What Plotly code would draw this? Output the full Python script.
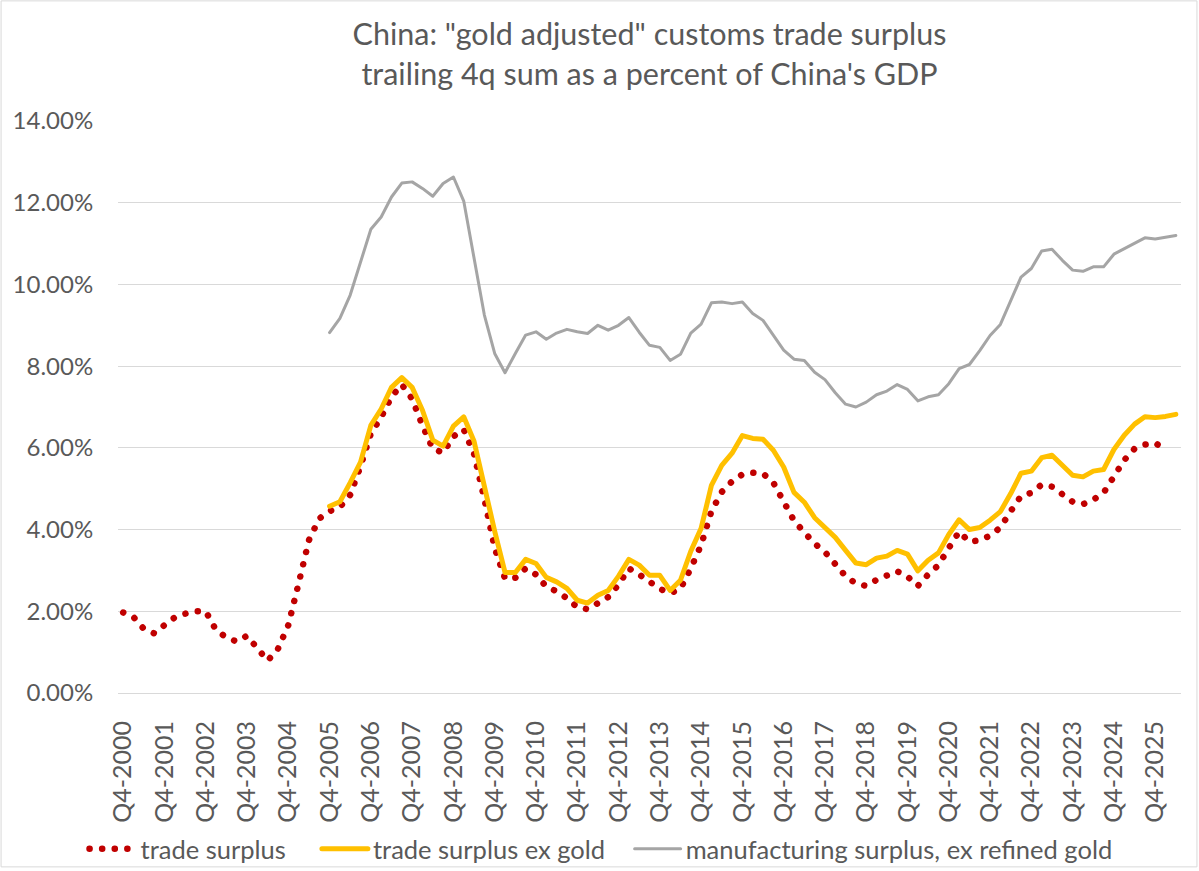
import plotly.graph_objects as go

# quarter categories, Q4-2000 onwards
years = list(range(2000, 2027))
quarters = ["Q4-2000"] + [f"Q{q}-{y}" for y in years[1:] for q in (1, 2, 3, 4)]
quarters = quarters[:103]
tick_labels = quarters[::4]

# trailing 4q sums as % of GDP
trade_surplus = [
    1.97, 1.86, 1.57, 1.46, 1.66, 1.85, 1.94, 2.00, 2.00, 1.54,
    1.36, 1.26, 1.40, 1.10, 0.79, 1.08, 1.66, 2.68, 3.74, 4.27,
    4.45, 4.55, 4.85, 5.55, 6.35, 6.75, 7.25, 7.55, 7.20, 6.55,
    5.98, 5.88, 6.28, 6.45, 5.85, 4.75, 3.55, 2.80, 2.82, 3.05,
    2.90, 2.60, 2.49, 2.32, 2.10, 2.05, 2.18, 2.35, 2.65, 3.05,
    2.90, 2.72, 2.55, 2.44, 2.55, 3.05, 3.62, 4.45, 4.92, 5.18,
    5.35, 5.39, 5.37, 5.15, 4.72, 4.22, 3.93, 3.66, 3.45, 3.16,
    2.86, 2.68, 2.62, 2.77, 2.88, 2.98, 2.85, 2.62, 2.90, 3.13,
    3.55, 3.95, 3.70, 3.74, 3.85, 4.05, 4.45, 4.82, 4.90, 5.10,
    5.05, 4.85, 4.68, 4.62, 4.73, 4.90, 5.32, 5.70, 5.98, 6.08,
    6.12, 5.95,
]

surplus_ex_gold = [None] * 20 + [
    4.57, 4.68, 5.15, 5.65, 6.55, 6.95, 7.48, 7.72, 7.48, 6.92,
    6.19, 6.04, 6.53, 6.76, 6.16, 5.04, 3.96, 2.95, 2.95, 3.27,
    3.17, 2.83, 2.72, 2.56, 2.27, 2.20, 2.39, 2.51, 2.86, 3.27,
    3.13, 2.88, 2.88, 2.51, 2.76, 3.47, 4.03, 5.08, 5.57, 5.87,
    6.30, 6.23, 6.21, 5.94, 5.53, 4.91, 4.67, 4.29, 4.06, 3.81,
    3.49, 3.18, 3.14, 3.30, 3.35, 3.49, 3.40, 2.99, 3.25, 3.43,
    3.88, 4.24, 4.00, 4.05, 4.23, 4.44, 4.88, 5.38, 5.43, 5.76,
    5.82, 5.57, 5.33, 5.29, 5.43, 5.47, 5.96, 6.31, 6.58, 6.76,
    6.74, 6.77, 6.82,
]

mfg_surplus = [None] * 20 + [
    8.82, 9.17, 9.74, 10.55, 11.35, 11.65, 12.14, 12.48, 12.51, 12.35,
    12.16, 12.47, 12.63, 12.04, 10.67, 9.25, 8.31, 7.84, 8.31, 8.76,
    8.84, 8.66, 8.81, 8.90, 8.84, 8.80, 9.00, 8.88, 9.00, 9.19,
    8.83, 8.51, 8.46, 8.14, 8.29, 8.81, 9.03, 9.55, 9.57, 9.53,
    9.57, 9.29, 9.12, 8.76, 8.39, 8.17, 8.14, 7.85, 7.67, 7.35,
    7.07, 7.00, 7.12, 7.30, 7.39, 7.55, 7.43, 7.15, 7.25, 7.30,
    7.57, 7.94, 8.04, 8.38, 8.75, 9.02, 9.62, 10.18, 10.39, 10.82,
    10.86, 10.59, 10.35, 10.32, 10.43, 10.43, 10.74, 10.88, 11.00, 11.14,
    11.11, 11.16, 11.20,
]

FONT = "Lato, Carlito, 'Open Sans', sans-serif"
TXT = "#595959"
GRID = "#D9D9D9"
NB = "\u00a0"

fig = go.Figure()

fig.add_trace(go.Scatter(
    x=quarters[:len(trade_surplus)], y=trade_surplus, name="trade surplus" + NB * 4,
    mode="lines", line=dict(color="#C00000", width=6.5, dash="0.1px,12.5px"),
))
fig.add_trace(go.Scatter(
    x=quarters, y=surplus_ex_gold, name="trade surplus ex gold" + NB * 3,
    mode="lines", line=dict(color="#FFC000", width=5),
))
fig.add_trace(go.Scatter(
    x=quarters, y=mfg_surplus, name="manufacturing surplus, ex refined gold",
    mode="lines", line=dict(color="#A5A5A5", width=3),
))

# thin border round the whole chart area
fig.add_shape(
    type="rect", xref="paper", yref="paper",
    x0=-0.110, x1=1.015, y0=-0.304, y1=1.210,
    line=dict(color=GRID, width=1), layer="below",
)

fig.update_layout(
    template="none",
    width=1199,
    height=871,
    margin=dict(l=118, r=18, t=121, b=178, autoexpand=False),
    paper_bgcolor="white",
    plot_bgcolor="white",
    font=dict(family=FONT, color=TXT, size=23),
    title=dict(
        text='China: "gold adjusted" customs trade surplus<br>trailing 4q sum as a percent of China\'s GDP',
        x=0.5, xanchor="center", xref="paper", y=0.948, yanchor="top",
        font=dict(size=30.5, color=TXT, family=FONT),
    ),
    showlegend=True,
    legend=dict(
        orientation="h", x=-0.0315, xanchor="left", y=-0.273, yanchor="middle",
        font=dict(size=25.5, color=TXT), itemwidth=46, traceorder="normal",
        bgcolor="rgba(0,0,0,0)",
    ),
    hovermode="closest",
)

fig.update_xaxes(
    type="category",
    categoryorder="array", categoryarray=quarters,
    range=[-0.5, len(quarters) - 0.5],
    tickmode="array", tickvals=tick_labels, ticktext=tick_labels,
    tickangle=-90, ticks="outside", ticklen=17, tickcolor="rgba(0,0,0,0)",
    showgrid=False, automargin=False,
    showline=True, linecolor=GRID, linewidth=1,
    tickfont=dict(size=25, color=TXT),
)
fig.update_yaxes(
    range=[0, 14], dtick=2, tickformat=".2f", ticksuffix="%",
    showgrid=True, gridcolor=GRID, gridwidth=1, zeroline=False,
    showline=False, automargin=False,
    ticks="outside", ticklen=19, tickcolor="rgba(0,0,0,0)",
    tickfont=dict(size=24, color=TXT),
)

fig.write_html(
    "out.html",
    config={"displayModeBar": False},
    post_script="var s=document.createElement('style');"
                "s.innerHTML='body{margin:0}.js-line{stroke-linecap:round;stroke-linejoin:round}';"
                "document.head.appendChild(s);",
)
